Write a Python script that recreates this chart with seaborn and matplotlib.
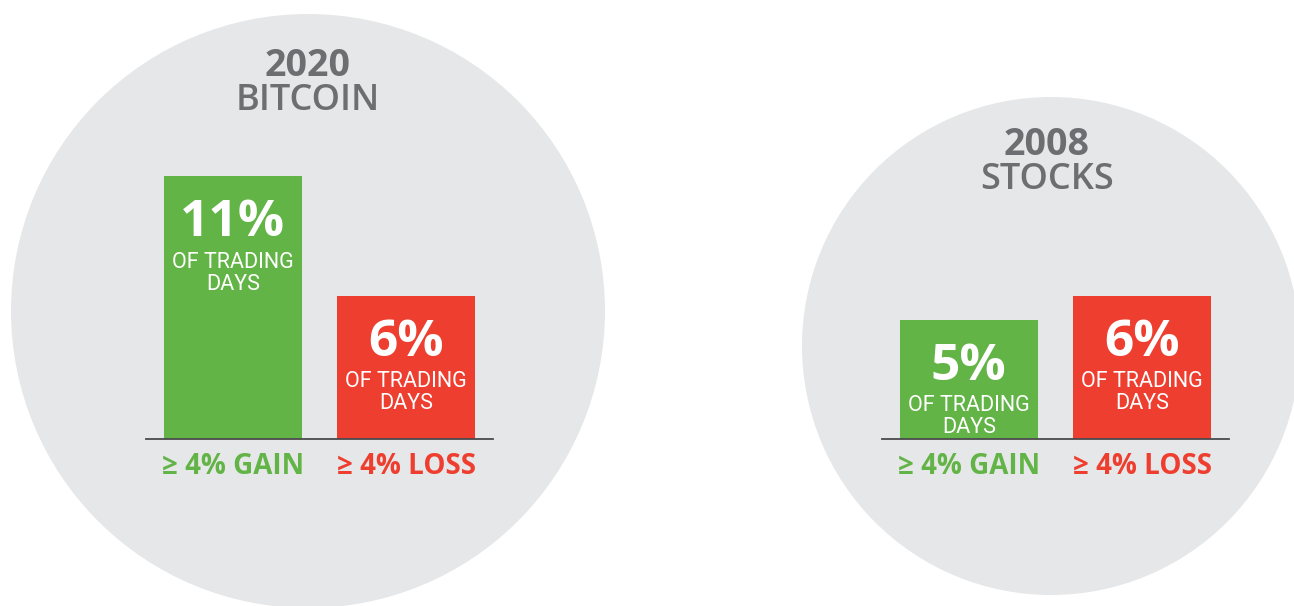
"""
Bitcoin 2020 vs stocks 2008: share of trading days with big moves.
Output: out.png
"""

import matplotlib.pyplot as plt
import seaborn as sns
from matplotlib.patches import Circle

# ==========================================
# 1. DATA
# ==========================================
CATEGORIES = ["\u2265 4% GAIN", "\u2265 4% LOSS"]
BTC_2020 = [11, 6]
STOCKS_2008 = [5, 6]
PANEL_TITLES = ["2020\nBITCOIN", "2008\nSTOCKS"]
SUBTEXT = "OF TRADING\nDAYS"

GREEN = "#63b446"
RED = "#ee3e2f"
CIRCLE_GRAY = "#e6e7e8"
TITLE_GRAY = "#6d6e71"
LINE_GRAY = "#4a4a4c"

W, H = 1294, 606
PX_PER_PCT = 23.9
BASELINE_Y = 439

sns.set_theme(style="white")
plt.rcParams['font.family'] = ['Open Sans', 'DejaVu Sans']

fig = plt.figure(figsize=(W / 100, H / 100), dpi=100)

# background layer in pixel coordinates (circles + titles)
bg = fig.add_axes([0, 0, 1, 1])
bg.set_xlim(0, W)
bg.set_ylim(H, 0)
bg.axis('off')
bg.add_patch(Circle((308, 311), 297, color=CIRCLE_GRAY, lw=0))
bg.add_patch(Circle((1051, 346), 249, color=CIRCLE_GRAY, lw=0))


def draw_title(x, y, title):
    year, name = title.split("\n")
    bg.text(x, y, year, ha='center', va='center', fontsize=27,
            weight='bold', color=TITLE_GRAY)
    bg.text(x, y + 35, name, ha='center', va='center', fontsize=26,
            weight='semibold', color=TITLE_GRAY)


draw_title(308, 66, PANEL_TITLES[0])
draw_title(1047, 145, PANEL_TITLES[1])


def draw_panel(left_px, values):
    height_px = 12 * PX_PER_PCT
    ax = fig.add_axes([left_px / W, (H - BASELINE_Y) / H, 347 / W, height_px / H])
    ax.patch.set_alpha(0)
    sns.barplot(x=CATEGORIES, y=values, hue=CATEGORIES, palette=[GREEN, RED],
                width=0.795, legend=False, saturation=1, linewidth=0, ax=ax)
    ax.set_xlim(-0.5, 1.5)
    ax.set_ylim(0, 12)
    for side in ['top', 'left', 'right']:
        ax.spines[side].set_visible(False)
    ax.spines['bottom'].set_color(LINE_GRAY)
    ax.spines['bottom'].set_linewidth(1.3)
    ax.spines['bottom'].set_zorder(5)
    ax.set_yticks([])
    ax.set_ylabel("")
    ax.tick_params(axis='x', length=0, pad=9)
    for lbl, col in zip(ax.get_xticklabels(), [GREEN, RED]):
        lbl.set_color(col)
        lbl.set_fontsize(20)
        lbl.set_fontweight('bold')

    for i, v in enumerate(values):
        ax.annotate(f"{v}%", (i, v), xytext=(0, -47), textcoords='offset pixels',
                    ha='center', va='center', fontsize=37, weight='bold',
                    color='white')
        ax.annotate(SUBTEXT, (i, v), xytext=(0, -97), textcoords='offset pixels',
                    ha='center', va='center', fontsize=15.5, family='Roboto',
                    color='white', linespacing=1.05)
    return ax


draw_panel(146, BTC_2020)
draw_panel(882, STOCKS_2008)

fig.savefig("out.png", dpi=100, facecolor='white')
